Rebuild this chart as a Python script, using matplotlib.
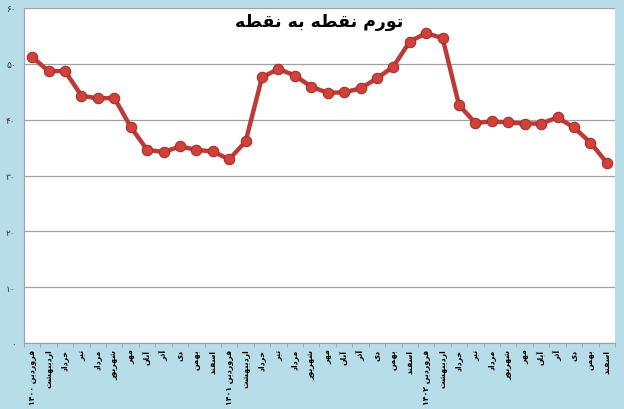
import numpy as np
import matplotlib
matplotlib.use("Agg")
import matplotlib.pyplot as plt
from matplotlib import font_manager, ft2font

# data (point to point inflation, 1400-1402)
months = ["فروردین", "اردیبهشت", "خرداد", "تیر", "مرداد", "شهریور",
          "مهر", "آبان", "آذر", "دی", "بهمن", "اسفند"]
years = ["۱۴۰۰", "۱۴۰۱", "۱۴۰۲"]
values = [51.2, 48.7, 48.7, 44.3, 43.8, 43.9, 38.7, 34.6, 34.2, 35.2, 34.6, 34.3,
          32.9, 36.1, 47.6, 49.1, 47.9, 45.9, 44.8, 44.9, 45.6, 47.4, 49.5, 54.0,
          55.5, 54.6, 42.6, 39.4, 39.7, 39.5, 39.3, 39.3, 40.4, 38.6, 35.9, 32.3]
yticks = [0, 10, 20, 30, 40, 50, 60]
title = "تورم نقطه به نقطه"

# --- minimal arabic/persian shaping (matplotlib has no bidi/shaping) ---
font_path = font_manager.findfont("DejaVu Sans")
cmap = ft2font.FT2Font(font_path).get_charmap()

# isolated, final, initial, medial
forms = {
    "ا": (0xFE8D, 0xFE8E), "آ": (0xFE81, 0xFE82), "د": (0xFEA9, 0xFEAA),
    "ذ": (0xFEAB, 0xFEAC), "ر": (0xFEAD, 0xFEAE), "و": (0xFEED, 0xFEEE),
    "ب": (0xFE8F, 0xFE90, 0xFE91, 0xFE92), "ت": (0xFE95, 0xFE96, 0xFE97, 0xFE98),
    "خ": (0xFEA5, 0xFEA6, 0xFEA7, 0xFEA8), "س": (0xFEB1, 0xFEB2, 0xFEB3, 0xFEB4),
    "ش": (0xFEB5, 0xFEB6, 0xFEB7, 0xFEB8), "ط": (0xFEC1, 0xFEC2, 0xFEC3, 0xFEC4),
    "ف": (0xFED1, 0xFED2, 0xFED3, 0xFED4), "ق": (0xFED5, 0xFED6, 0xFED7, 0xFED8),
    "م": (0xFEE1, 0xFEE2, 0xFEE3, 0xFEE4), "ن": (0xFEE5, 0xFEE6, 0xFEE7, 0xFEE8),
    "ه": (0xFEE9, 0xFEEA, 0xFEEB, 0xFEEC),
    "ی": (0xFBFC, 0xFBFD, 0xFBFE, 0xFBFF),
}
if 0xFBFC not in cmap:
    forms["ی"] = (0xFEEF, 0xFEF0, 0xFEF3, 0xFEF4)


def shape_word(w):
    out = []
    for i, c in enumerate(w):
        if c not in forms:
            out.append(c)
            continue
        prev = w[i - 1] if i > 0 else None
        nxt = w[i + 1] if i + 1 < len(w) else None
        jp = prev in forms and len(forms[prev]) == 4
        jn = len(forms[c]) == 4 and nxt in forms
        f = forms[c]
        if jp and jn:
            out.append(chr(f[3]))
        elif jn:
            out.append(chr(f[2]))
        elif jp:
            out.append(chr(f[1]))
        else:
            out.append(chr(f[0]))
    s = "".join(out)
    if any(c in forms for c in w):
        s = s[::-1]
    return s


def fa(text):
    return " ".join(shape_word(w) for w in text.split(" ")[::-1])


labels = []
for y in years:
    for j, m in enumerate(months):
        labels.append(fa(m + " " + y) if j == 0 else fa(m))

x = np.arange(len(values))

fig = plt.figure(figsize=(6.24, 4.10), dpi=100)
fig.patch.set_facecolor("#B7DDE8")
ax = fig.add_axes([24 / 624, 66 / 410, 591 / 624, 335 / 410])
ax.set_facecolor("white")

ax.plot(x, values, color="#BE3A36", lw=3.2, marker="o", ms=7.5,
        markerfacecolor="#D0413C", markeredgecolor="#A82E2A", mew=0.8, zorder=3)

ax.set_xlim(-0.5, len(values) - 0.5)
ax.set_ylim(0, 60)
ax.set_yticks(yticks)
ax.set_yticklabels([fa(str(v).translate(str.maketrans("0123456789", "۰۱۲۳۴۵۶۷۸۹"))) for v in yticks],
                   fontsize=6.5, color="#333333")
ax.grid(axis="y", color="#A0A0A0", lw=0.9)
ax.set_axisbelow(True)

ax.set_xticks(x)
ax.set_xticklabels(labels, rotation=90, fontsize=5.6, fontweight="bold", ha="center", va="top")
ax.set_xticks(np.arange(len(values) + 1) - 0.5, minor=True)
ax.tick_params(axis="x", which="major", length=0, pad=4)
ax.tick_params(axis="x", which="minor", length=3, color="#A0A0A0")
ax.tick_params(axis="y", length=0, pad=6)

for s in ["top", "right"]:
    ax.spines[s].set_visible(False)
for s in ["left", "bottom"]:
    ax.spines[s].set_color("#A0A0A0")

ax.text(0.5, 0.962, fa(title), transform=ax.transAxes, ha="center", va="center",
        fontsize=12.5, fontweight="bold", color="black")

fig.savefig("out.png", dpi=100, facecolor=fig.get_facecolor())
